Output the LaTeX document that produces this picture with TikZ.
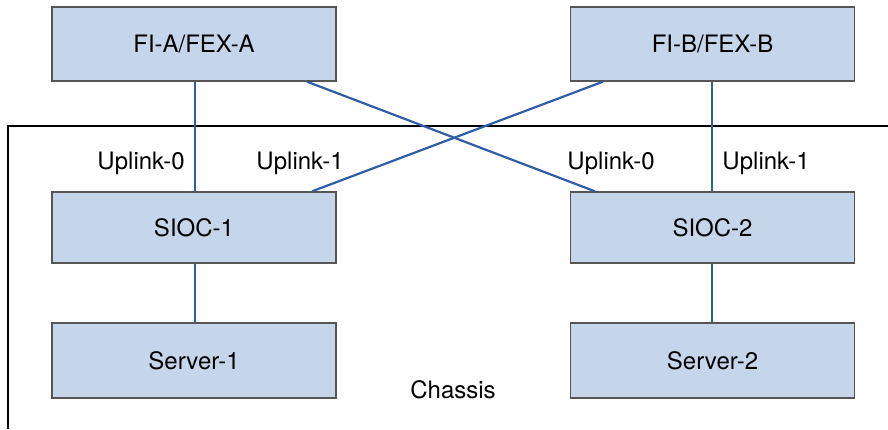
\documentclass[tikz,border=0pt]{standalone}
\usepackage{fontspec}
\setmainfont{TeX Gyre Heros}
\definecolor{boxfill}{HTML}{C5D5EA}
\definecolor{boxline}{HTML}{555555}
\definecolor{linkblue}{HTML}{2F5DA8}
\begin{document}
\begin{tikzpicture}[x=1pt,y=1pt,
  blk/.style={draw=boxline,line width=1.3pt,fill=boxfill,minimum width=284pt,inner sep=0pt,
    font=\fontsize{24}{28}\selectfont},
  lnk/.style={draw=linkblue,line width=2.2pt},
  lbl/.style={font=\fontsize{24}{28}\selectfont,inner sep=0pt}]
\useasboundingbox (0,0) rectangle (888,429);
\node[blk,minimum height=74pt] (fia) at (194,385) {FI-A/FEX-A};
\node[blk,minimum height=74pt] (fib) at (712.5,385) {FI-B/FEX-B};
\node[blk,minimum height=71pt] (s1) at (194,201.5) {SIOC-1};
\node[blk,minimum height=71pt] (s2) at (712.5,201.5) {SIOC-2};
\node[blk,minimum height=75pt] (v1) at (194,68.5) {Server-1};
\node[blk,minimum height=75pt] (v2) at (712.5,68.5) {Server-2};
\coordinate (chtl) at (8,303);
\coordinate (chtr) at (888,303);
\coordinate (chbl) at (8,0);
\draw[black,line width=2pt] (chtr) -- (chtl) -- (chbl);
\node[lbl] (chassis) at (453,39) {Chassis};
\node[lbl] (u0a) at (141,266) {Uplink-0};
\node[lbl] (u1a) at (300,266) {Uplink-1};
\node[lbl] (u0b) at (611,266) {Uplink-0};
\node[lbl] (u1b) at (766,266) {Uplink-1};
\draw[lnk] (fia.south -| 195,0) -- (s1.north -| 195,0);
\draw[lnk] (fib.south -| 712,0) -- (s2.north -| 712,0);
\draw[lnk] (fia.south -| 307,0) -- (s2.north -| 595,0);
\draw[lnk] (fib.south -| 603,0) -- (s1.north -| 312,0);
\draw[lnk] (s1.south -| 195,0) -- (v1.north -| 195,0);
\draw[lnk] (s2.south -| 712,0) -- (v2.north -| 712,0);
\end{tikzpicture}
\end{document}
